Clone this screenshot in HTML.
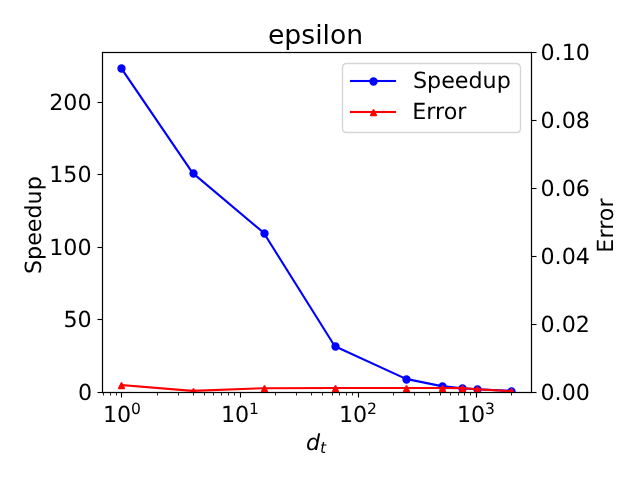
<!DOCTYPE html>
<html lang="en">
<head>
<meta charset="utf-8">
<title>epsilon</title>
<style>
html,body{margin:0;padding:0;background:#ffffff;}
body{width:640px;height:480px;overflow:hidden;font-family:"DejaVu Sans", "Liberation Sans", sans-serif;}
svg{display:block;}
svg text{font-family:"DejaVu Sans", "Liberation Sans", sans-serif;white-space:pre;}
</style>
</head>
<body>
<svg width="640" height="480" viewBox="0 0 640 480" fill="#000000" text-rendering="geometricPrecision">
<defs><clipPath id="clip0"><rect x="101.903" y="52.333" width="429.069" height="339.589"/></clipPath></defs>
<path d="M0 480 L640 480 L640 0 L0 0 Z" fill="#ffffff"/>
<path d="M102 392 L531 392 L531 52 L102 52 Z" fill="#ffffff"/>
<rect x="120.944" y="392.5" width="1.111" height="5" fill="#000000"/>
<text><tspan x="102.895" y="422" font-size="22.222">10</tspan><tspan x="130.918" y="414" font-size="15.556">0</tspan></text>
<rect x="239.944" y="392.5" width="1.111" height="5" fill="#000000"/>
<text><tspan x="220.996" y="422" font-size="22.222">10</tspan><tspan x="248.894" y="414" font-size="15.556">1</tspan></text>
<rect x="357.944" y="392.5" width="1.111" height="5" fill="#000000"/>
<text><tspan x="338.973" y="422" font-size="22.222">10</tspan><tspan x="366.996" y="414" font-size="15.556">2</tspan></text>
<rect x="475.944" y="392.5" width="1.111" height="5" fill="#000000"/>
<text><tspan x="456.887" y="422" font-size="22.222">10</tspan><tspan x="484.91" y="414" font-size="15.556">3</tspan></text>
<rect x="103.083" y="392.5" width="0.833" height="3" fill="#000000"/>
<rect x="110.083" y="392.5" width="0.833" height="3" fill="#000000"/>
<rect x="116.083" y="392.5" width="0.833" height="3" fill="#000000"/>
<rect x="157.083" y="392.5" width="0.833" height="3" fill="#000000"/>
<rect x="178.083" y="392.5" width="0.833" height="3" fill="#000000"/>
<rect x="193.083" y="392.5" width="0.833" height="3" fill="#000000"/>
<rect x="204.083" y="392.5" width="0.833" height="3" fill="#000000"/>
<rect x="213.083" y="392.5" width="0.833" height="3" fill="#000000"/>
<rect x="221.083" y="392.5" width="0.833" height="3" fill="#000000"/>
<rect x="228.083" y="392.5" width="0.833" height="3" fill="#000000"/>
<rect x="234.083" y="392.5" width="0.833" height="3" fill="#000000"/>
<rect x="275.083" y="392.5" width="0.833" height="3" fill="#000000"/>
<rect x="296.083" y="392.5" width="0.833" height="3" fill="#000000"/>
<rect x="311.083" y="392.5" width="0.833" height="3" fill="#000000"/>
<rect x="322.083" y="392.5" width="0.833" height="3" fill="#000000"/>
<rect x="332.083" y="392.5" width="0.833" height="3" fill="#000000"/>
<rect x="339.083" y="392.5" width="0.833" height="3" fill="#000000"/>
<rect x="346.083" y="392.5" width="0.833" height="3" fill="#000000"/>
<rect x="352.083" y="392.5" width="0.833" height="3" fill="#000000"/>
<rect x="393.083" y="392.5" width="0.833" height="3" fill="#000000"/>
<rect x="414.083" y="392.5" width="0.833" height="3" fill="#000000"/>
<rect x="429.083" y="392.5" width="0.833" height="3" fill="#000000"/>
<rect x="440.083" y="392.5" width="0.833" height="3" fill="#000000"/>
<rect x="450.083" y="392.5" width="0.833" height="3" fill="#000000"/>
<rect x="458.083" y="392.5" width="0.833" height="3" fill="#000000"/>
<rect x="464.083" y="392.5" width="0.833" height="3" fill="#000000"/>
<rect x="470.083" y="392.5" width="0.833" height="3" fill="#000000"/>
<rect x="511.083" y="392.5" width="0.833" height="3" fill="#000000"/>
<text><tspan x="305.969" y="450" font-size="22.222" font-style="oblique">d</tspan><tspan x="320.093" y="453" font-size="15.556" font-style="oblique">t</tspan></text>
<rect x="97.5" y="391.944" width="5" height="1.111" fill="#000000"/>
<text x="77.931" y="400" font-size="22.222">0</text>
<rect x="97.5" y="318.944" width="5" height="1.111" fill="#000000"/>
<text x="63.431" y="327" font-size="22.222">50</text>
<rect x="97.5" y="246.944" width="5" height="1.111" fill="#000000"/>
<text x="49.181" y="255" font-size="22.222">100</text>
<rect x="97.5" y="173.944" width="5" height="1.111" fill="#000000"/>
<text x="49.181" y="182" font-size="22.222">150</text>
<rect x="97.5" y="101.944" width="5" height="1.111" fill="#000000"/>
<text x="49.181" y="110" font-size="22.222">200</text>
<text x="40.625" y="274.065" font-size="22.222" transform="rotate(-90 40.625 274.065)">Speedup</text>
<path d="M121.406 68.456 L192.548 172.893 L263.69 232.8 L334.832 346.231 L405.973 378.868 L441.544 386.12 L462.352 388.296 L477.115 389.311 L511.469 390.907" fill="none" stroke="#0000ff" stroke-width="2.083" stroke-linecap="square" stroke-linejoin="round" clip-path="url(#clip0)"/>
<g fill="#0000ff" stroke="#0000ff" stroke-width="1.389" stroke-linecap="butt" stroke-linejoin="round" clip-path="url(#clip0)"><circle cx="121.5" cy="68.5" r="3.472"/><circle cx="193.5" cy="173.5" r="3.472"/><circle cx="264.5" cy="233.5" r="3.472"/><circle cx="335.5" cy="346.5" r="3.472"/><circle cx="406.5" cy="379.5" r="3.472"/><circle cx="442.5" cy="386.5" r="3.472"/><circle cx="462.5" cy="388.5" r="3.472"/><circle cx="477.5" cy="389.5" r="3.472"/><circle cx="511.5" cy="391.5" r="3.472"/></g>
<rect x="101.944" y="51.944" width="1.111" height="341.111" fill="#000000"/>
<rect x="530.944" y="51.944" width="1.111" height="341.111" fill="#000000"/>
<rect x="101.944" y="391.944" width="430.111" height="1.111" fill="#000000"/>
<rect x="101.944" y="51.944" width="430.111" height="1.111" fill="#000000"/>
<text x="267.938" y="44" font-size="26.667" text-rendering="auto">epsilon</text>
<path d="M346.5 132.5 L515.5 132.5 Q520.5 132.5 520.5 128.5 L520.5 68.5 Q520.5 63.5 515.5 63.5 L346.5 63.5 Q342.5 63.5 342.5 68.5 L342.5 128.5 Q342.5 132.5 346.5 132.5 Z" fill="#ffffff" fill-opacity="0.8" stroke="#cccccc" stroke-width="1.389" stroke-linecap="butt" stroke-linejoin="miter" stroke-miterlimit="1.389" stroke-opacity="0.8"/>
<rect x="349.958" y="79.958" width="46.083" height="2.083" fill="#0000ff"/>
<g fill="#0000ff" stroke="#0000ff" stroke-width="1.389" stroke-linecap="butt" stroke-linejoin="round"><circle cx="373.5" cy="81.5" r="3.472"/></g>
<text x="412.972" y="88" font-size="22.222">Speedup</text>
<rect x="349.958" y="110.958" width="46.083" height="2.083" fill="#ff0000"/>
<g fill="#ff0000" stroke="#ff0000" stroke-width="1.389" stroke-linecap="butt" stroke-linejoin="miter" stroke-miterlimit="1.389"><path d="M373.5 109.5 L370.5 115.5 L376.5 115.5 Z"/></g>
<text x="412.222" y="119" font-size="22.222">Error</text>
<rect x="531.5" y="391.944" width="5" height="1.111" fill="#000000"/>
<text x="540.444" y="400" font-size="22.222">0.00</text>
<rect x="531.5" y="323.944" width="5" height="1.111" fill="#000000"/>
<text x="540.444" y="332" font-size="22.222">0.02</text>
<rect x="531.5" y="255.944" width="5" height="1.111" fill="#000000"/>
<text x="540.444" y="264" font-size="22.222">0.04</text>
<rect x="531.5" y="187.944" width="5" height="1.111" fill="#000000"/>
<text x="540.444" y="196" font-size="22.222">0.06</text>
<rect x="531.5" y="119.944" width="5" height="1.111" fill="#000000"/>
<text x="540.444" y="128" font-size="22.222">0.08</text>
<rect x="531.5" y="51.944" width="5" height="1.111" fill="#000000"/>
<text x="540.444" y="60" font-size="22.222">0.10</text>
<text x="612.625" y="252.628" font-size="22.222" transform="rotate(-90 612.625 252.628)">Error</text>
<path d="M121.406 385.13 L192.548 390.903 L263.69 388.187 L334.832 388.017 L405.973 387.983 L441.544 387.983 L462.352 388.119 L477.115 389.206 L511.469 391.243" fill="none" stroke="#ff0000" stroke-width="2.083" stroke-linecap="square" stroke-linejoin="round" clip-path="url(#clip0)"/>
<g fill="#ff0000" stroke="#ff0000" stroke-width="1.389" stroke-linecap="butt" stroke-linejoin="miter" stroke-miterlimit="1.389" clip-path="url(#clip0)"><path d="M121.5 382.5 L118.5 388.5 L124.5 388.5 Z"/><path d="M193.5 388.5 L190.5 394.5 L196.5 394.5 Z"/><path d="M264.5 385.5 L261.5 391.5 L267.5 391.5 Z"/><path d="M335.5 385.5 L332.5 391.5 L338.5 391.5 Z"/><path d="M406.5 385.5 L403.5 391.5 L409.5 391.5 Z"/><path d="M442.5 385.5 L439.5 391.5 L445.5 391.5 Z"/><path d="M462.5 385.5 L459.5 391.5 L465.5 391.5 Z"/><path d="M477.5 386.5 L474.5 392.5 L480.5 392.5 Z"/><path d="M511.5 388.5 L508.5 394.5 L514.5 394.5 Z"/></g>
<rect x="101.944" y="51.944" width="1.111" height="341.111" fill="#000000"/>
<rect x="530.944" y="51.944" width="1.111" height="341.111" fill="#000000"/>
<rect x="101.944" y="391.944" width="430.111" height="1.111" fill="#000000"/>
<rect x="101.944" y="51.944" width="430.111" height="1.111" fill="#000000"/>
</svg>
</body>
</html>
